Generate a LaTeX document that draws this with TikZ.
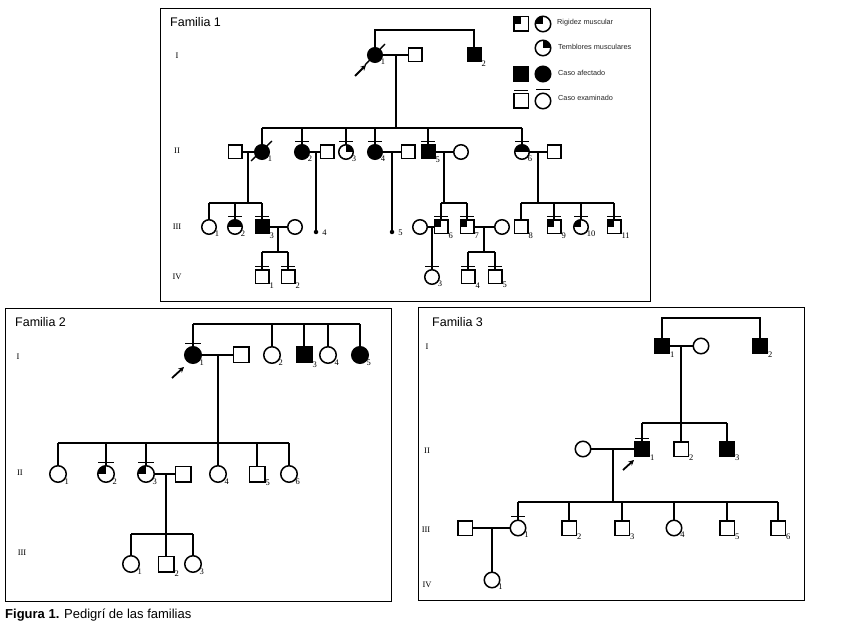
\documentclass[tikz,border=0pt]{standalone}
\usepackage{fontspec}
\setmainfont{Liberation Serif}
\newfontfamily\sansf{Liberation Sans}
\usetikzlibrary{arrows.meta,calc}
\newcommand\exbar[2]{\draw[ln] ($(#1.north)+(-#2,-3.5)$) -- ($(#1.north)+(#2,-3.5)$);}
\begin{document}
\begin{tikzpicture}[x=1pt,y=-1pt,
  ln/.style={line width=1.35pt},
  thin ln/.style={line width=1.05pt},
  boxline/.style={line width=0.9pt},
  sym/.style={draw, line width=1.5pt, inner sep=0pt, outer sep=0pt, fill=white},
  sq/.style={sym, rectangle, minimum size=13.5pt},
  ci/.style={sym, circle, minimum size=14.5pt},
  sqb/.style={sym, rectangle, minimum size=15.5pt},
  cib/.style={sym, circle, minimum size=16.5pt},
  sqc/.style={sym, rectangle, minimum size=14.5pt},
  cic/.style={sym, circle, minimum size=15.5pt},
  aff/.style={fill=black},
  rig/.style={path picture={\fill[black] (path picture bounding box.center) rectangle (path picture bounding box.north west);}},
  trem/.style={path picture={\fill[black] (path picture bounding box.center) rectangle (path picture bounding box.north east);}},
  half/.style={path picture={\fill[black] (path picture bounding box.west) rectangle (path picture bounding box.north east);}},
  num/.style={font=\fontsize{8.5}{9}\selectfont, inner sep=0.6pt, anchor=west, yshift=-1.5pt},
  gen/.style={font=\fontsize{8.5}{9}\selectfont, inner sep=0pt},
  ttl/.style={font=\sansf\fontsize{12.5}{14}\selectfont, anchor=west, inner sep=0pt},
  leg/.style={font=\sansf\fontsize{7.3}{8}\selectfont, text=black!85, anchor=west, inner sep=0pt},
  dot/.style={circle, fill=black, minimum size=4.5pt, inner sep=0pt},
  prob/.style={line width=1.8pt, -{Stealth[length=5.5pt,width=5.5pt]}}
]
\useasboundingbox (0,0) rectangle (852,628);
\fill[white] (0,0) rectangle (852,628);

% ---------------- frames
\draw[boxline] (160,8) rectangle (650,301);
\draw[boxline] (5,308) rectangle (391,601);
\draw[boxline] (418,307) rectangle (804,600);
\node[anchor=west, inner sep=0pt, font=\sansf\fontsize{13}{15}\selectfont] (cap) at (5,615) {{\bfseries Figura 1.} Pedigrí de las familias};

% ================= FAMILIA 1
\node[ttl] (t1) at (170,22) {Familia 1};
\node[gen] (g1i) at (177,56) {I};
\node[gen] (g1ii) at (177,151) {II};
\node[gen] (g1iii) at (177,227) {III};
\node[gen] (g1iv) at (177,277) {IV};

% legend
\node[sqc,rig] (lg1a) at (521,24) {};
\node[cic,rig] (lg1b) at (543,24) {};
\node[leg] (lg1t) at (557,23) {Rigidez muscular};
\node[cic,trem] (lg2b) at (543,48) {};
\node[leg] (lg2t) at (558,47) {Temblores musculares};
\node[sqc,aff] (lg3a) at (521,74) {};
\node[cic,aff] (lg3b) at (543,74) {};
\node[leg] (lg3t) at (558,73) {Caso afectado};
\node[sqc] (lg4a) at (521,101) {};
\node[cic] (lg4b) at (543,101) {};
\node[leg] (lg4t) at (558,98) {Caso examinado};
\exbar{lg4a}{7}
\exbar{lg4b}{7}

% generation I
\node[ci,aff,label={[num]south east:1}] (f1a) at (375,55) {};
\node[sq] (f1b) at (415,55) {};
\node[sq,aff,label={[num]south east:2}] (f1c) at (474,55) {};
\coordinate (f1top) at (0,30);
\coordinate (f1m) at (396,55);
\coordinate (f1s2) at (0,128);
\coordinate (f1s3) at (0,203);
\coordinate (f1s4) at (0,252);
\draw[ln] (f1a) -- (f1a |- f1top) -- (f1c |- f1top) -- (f1c);
\draw[ln] (f1a) -- (f1b);
\draw[ln] (f1m) -- (f1m |- f1s2);
\draw[ln] ($(f1a)+(-10,10)$) -- ($(f1a)+(10,-11)$);
\coordinate (f1arA) at (355,76);
\coordinate (f1arB) at (366,65);
\draw[prob] (f1arA) -- (f1arB);

% generation II
\node[sq] (f1ds) at (235,152) {};
\node[ci,aff,label={[num]south east:1}] (f1d) at (262,152) {};
\node[ci,aff,label={[num]south east:2}] (f1e) at (302,152) {};
\node[sq] (f1es) at (327,152) {};
\node[ci,trem,label={[num]south east:3}] (f1f) at (346,152) {};
\node[ci,aff,label={[num]south east:4}] (f1g) at (375,152) {};
\node[sq] (f1gs) at (408,152) {};
\node[sq,aff,label={[num]south east:5}] (f1h) at (428,152) {};
\node[ci] (f1hs) at (461,152) {};
\node[ci,half,label={[num]south east:6}] (f1i) at (522,152) {};
\node[sq] (f1is) at (554,152) {};
\draw[ln] (f1d |- f1s2) -- (f1i |- f1s2);
\foreach \n in {f1d,f1e,f1f,f1g,f1h,f1i} {\draw[ln] (\n) -- (\n |- f1s2);}
\foreach \n in {f1e,f1f,f1g,f1h,f1i} {\exbar{\n}{7}}
\draw[ln] ($(f1d)+(-11,9)$) -- ($(f1d)+(10,-11)$);
\draw[ln] (f1ds) -- (f1d);
\draw[ln] (f1e) -- (f1es);
\draw[ln] (f1g) -- (f1gs);
\draw[ln] (f1h) -- (f1hs);
\draw[ln] (f1i) -- (f1is);
\coordinate (f1dm) at (248,152);
\coordinate (f1em) at (316,152);
\coordinate (f1gm) at (392,152);
\coordinate (f1hm) at (444,152);
\coordinate (f1im) at (538,152);

% generation III
\node[ci,label={[num]south east:1}] (f1j) at (209,227) {};
\node[ci,half,label={[num]south east:2}] (f1k) at (235,227) {};
\node[sq,aff,label={[num]south east:3}] (f1l) at (262,227) {};
\node[ci] (f1ls) at (295,227) {};
\node[dot,label={[num,label distance=3pt,yshift=1pt]east:4}] (f1n4) at (316,232) {};
\node[dot,label={[num,label distance=3pt,yshift=1pt]east:5}] (f1n5) at (392,232) {};
\node[ci] (f1o) at (420,227) {};
\node[sq,rig,label={[num]south east:6}] (f1p) at (441,227) {};
\node[sq,rig,label={[num]south east:7}] (f1q) at (467,227) {};
\node[ci] (f1qs) at (502,227) {};
\node[sq,label={[num]south east:8}] (f1r8) at (521,227) {};
\node[sq,rig,label={[num]south east:9}] (f1r9) at (554,227) {};
\node[ci,rig,label={[num]south east:10}] (f1r10) at (581,227) {};
\node[sq,rig,label={[num]south east:11}] (f1r11) at (614,227) {};

\draw[ln] (f1dm) -- (f1dm |- f1s3);
\draw[ln] (f1j |- f1s3) -- (f1l |- f1s3);
\foreach \n in {f1j,f1k,f1l} {\draw[ln] (\n) -- (\n |- f1s3);}
\draw[ln] (f1em) -- (f1n4);
\draw[ln] (f1gm) -- (f1n5);
\draw[ln] (f1hm) -- (f1hm |- f1s3);
\draw[ln] (f1p |- f1s3) -- (f1q |- f1s3);
\foreach \n in {f1p,f1q} {\draw[ln] (\n) -- (\n |- f1s3);}
\draw[ln] (f1im) -- (f1im |- f1s3);
\draw[ln] (f1r8 |- f1s3) -- (f1r11 |- f1s3);
\foreach \n in {f1r8,f1r9,f1r10,f1r11} {\draw[ln] (\n) -- (\n |- f1s3);}
\foreach \n in {f1k,f1l,f1p,f1q,f1r9,f1r10,f1r11} {\exbar{\n}{7}}
\draw[ln] (f1l) -- (f1ls);
\draw[ln] (f1o) -- (f1p);
\draw[ln] (f1q) -- (f1qs);
\coordinate (f1lm) at (278,227);
\coordinate (f1pm) at (432,227);
\coordinate (f1qm) at (484,227);

% generation IV
\node[sq,label={[num]south east:1}] (f1u1) at (262,277) {};
\node[sq,label={[num]south east:2}] (f1u2) at (288,277) {};
\node[ci,label={[num]south east:3}] (f1t) at (432,277) {};
\node[sq,label={[num]south east:4}] (f1u4) at (468,277) {};
\node[sq,label={[num]south east:5}] (f1u5) at (495,277) {};
\draw[ln] (f1lm) -- (f1lm |- f1s4);
\draw[ln] (f1u1 |- f1s4) -- (f1u2 |- f1s4);
\draw[ln] (f1u1) -- (f1u1 |- f1s4);
\draw[ln] (f1u2) -- (f1u2 |- f1s4);
\draw[ln] (f1pm) -- (f1t);
\draw[ln] (f1qm) -- (f1qm |- f1s4);
\draw[ln] (f1u4 |- f1s4) -- (f1u5 |- f1s4);
\draw[ln] (f1u4) -- (f1u4 |- f1s4);
\draw[ln] (f1u5) -- (f1u5 |- f1s4);
\foreach \n in {f1u1,f1u2,f1t,f1u4,f1u5} {\exbar{\n}{7}}

% ================= FAMILIA 2
\node[ttl] (t2) at (15,322) {Familia 2};
\node[gen] (g2i) at (18,357) {I};
\node[gen] (g2ii) at (20,473) {II};
\node[gen] (g2iii) at (22,553) {III};
\coordinate (f2top) at (0,324);
\coordinate (f2s2) at (0,443);
\coordinate (f2s3) at (0,534);

\node[cib,aff,label={[num]south east:1}] (f2a) at (193,355) {};
\node[sqb] (f2b) at (241,355) {};
\node[cib,label={[num]south east:2}] (f2c) at (272,355) {};
\node[sqb,aff,label={[num]south east:3}] (f2d) at (304,355) {};
\node[cib,label={[num]south east:4}] (f2e) at (328,355) {};
\node[cib,aff,label={[num]south east:5}] (f2f) at (360,355) {};
\draw[ln] (f2a |- f2top) -- (f2f |- f2top);
\foreach \n in {f2a,f2c,f2d,f2e,f2f} {\draw[ln] (\n) -- (\n |- f2top);}
\exbar{f2a}{8}
\draw[ln] (f2a) -- (f2b);
\coordinate (f2arA) at (172,378);
\coordinate (f2arB) at (184,367);
\draw[prob] (f2arA) -- (f2arB);
\coordinate (f2m) at (218,355);

\node[cib,label={[num]south east:1}] (f2g1) at (58,474) {};
\node[cib,rig,label={[num]south east:2}] (f2g2) at (106,474) {};
\node[cib,rig,label={[num]south east:3}] (f2g3) at (146,474) {};
\node[sqb] (f2g3s) at (183,474) {};
\node[cib,label={[num]south east:4}] (f2g4) at (218,474) {};
\node[sqb,label={[num]south east:5}] (f2g5) at (257,474) {};
\node[cib,label={[num]south east:6}] (f2g6) at (289,474) {};
\draw[ln] (f2m) -- (f2g4);
\draw[ln] (f2g1 |- f2s2) -- (f2g6 |- f2s2);
\foreach \n in {f2g1,f2g2,f2g3,f2g5,f2g6} {\draw[ln] (\n) -- (\n |- f2s2);}
\exbar{f2g2}{8}
\exbar{f2g3}{8}
\draw[ln] (f2g3) -- (f2g3s);
\coordinate (f2g3m) at (166,474);

\node[cib,label={[num]south east:1}] (f2h1) at (131,564) {};
\node[sqb,label={[num]south east:2}] (f2h2) at (166,564) {};
\node[cib,label={[num]south east:3}] (f2h3) at (193,564) {};
\draw[ln] (f2g3m) -- (f2h2);
\draw[ln] (f2h1 |- f2s3) -- (f2h3 |- f2s3);
\draw[ln] (f2h1) -- (f2h1 |- f2s3);
\draw[ln] (f2h3) -- (f2h3 |- f2s3);

% ================= FAMILIA 3
\node[ttl] (t3) at (432,322) {Familia 3};
\node[gen] (g3i) at (427,347) {I};
\node[gen] (g3ii) at (427,451) {II};
\node[gen] (g3iii) at (426,530) {III};
\node[gen] (g3iv) at (427,585) {IV};
\coordinate (f3top) at (0,318);
\coordinate (f3s2) at (0,423);
\coordinate (f3s3) at (0,502);

\node[sqc,aff,label={[num]south east:1}] (f3a) at (662,346) {};
\node[cic] (f3b) at (701,346) {};
\node[sqc,aff,label={[num]south east:2}] (f3c) at (760,346) {};
\draw[thin ln] (f3a) -- (f3a |- f3top) -- (f3c |- f3top) -- (f3c);
\draw[thin ln] (f3a) -- (f3b);
\coordinate (f3m) at (681,346);

\node[cic] (f3d1s) at (583,449) {};
\node[sqc,aff,label={[num]south east:1}] (f3d1) at (642,449) {};
\node[sqc,label={[num]south east:2}] (f3d2) at (681,449) {};
\node[sqc,aff,label={[num]south east:3}] (f3d3) at (727,449) {};
\draw[thin ln] (f3m) -- (f3d2);
\draw[thin ln] (f3d1 |- f3s2) -- (f3d3 |- f3s2);
\draw[thin ln] (f3d1) -- (f3d1 |- f3s2);
\draw[thin ln] (f3d3) -- (f3d3 |- f3s2);
\exbar{f3d1}{7}
\draw[thin ln] (f3d1s) -- (f3d1);
\coordinate (f3arA) at (623,470);
\coordinate (f3arB) at (634,460);
\draw[prob] (f3arA) -- (f3arB);
\coordinate (f3dm) at (613,449);

\node[sqc] (f3e1s) at (465,528) {};
\node[cic,label={[num]south east:1}] (f3e1) at (518,528) {};
\node[sqc,label={[num]south east:2}] (f3e2) at (569,528) {};
\node[sqc,label={[num]south east:3}] (f3e3) at (622,528) {};
\node[cic,label={[num]south east:4}] (f3e4) at (674,528) {};
\node[sqc,label={[num]south east:5}] (f3e5) at (727,528) {};
\node[sqc,label={[num]south east:6}] (f3e6) at (778,528) {};
\draw[thin ln] (f3dm) -- (f3dm |- f3s3);
\draw[thin ln] (f3e1 |- f3s3) -- (f3e6 |- f3s3);
\foreach \n in {f3e1,f3e2,f3e3,f3e4,f3e5,f3e6} {\draw[thin ln] (\n) -- (\n |- f3s3);}
\exbar{f3e1}{7}
\draw[thin ln] (f3e1s) -- (f3e1);
\coordinate (f3em) at (492,528);
\node[cic,label={[num]south east:1}] (f3f1) at (492,580) {};
\draw[thin ln] (f3em) -- (f3f1);
\end{tikzpicture}
\end{document}
